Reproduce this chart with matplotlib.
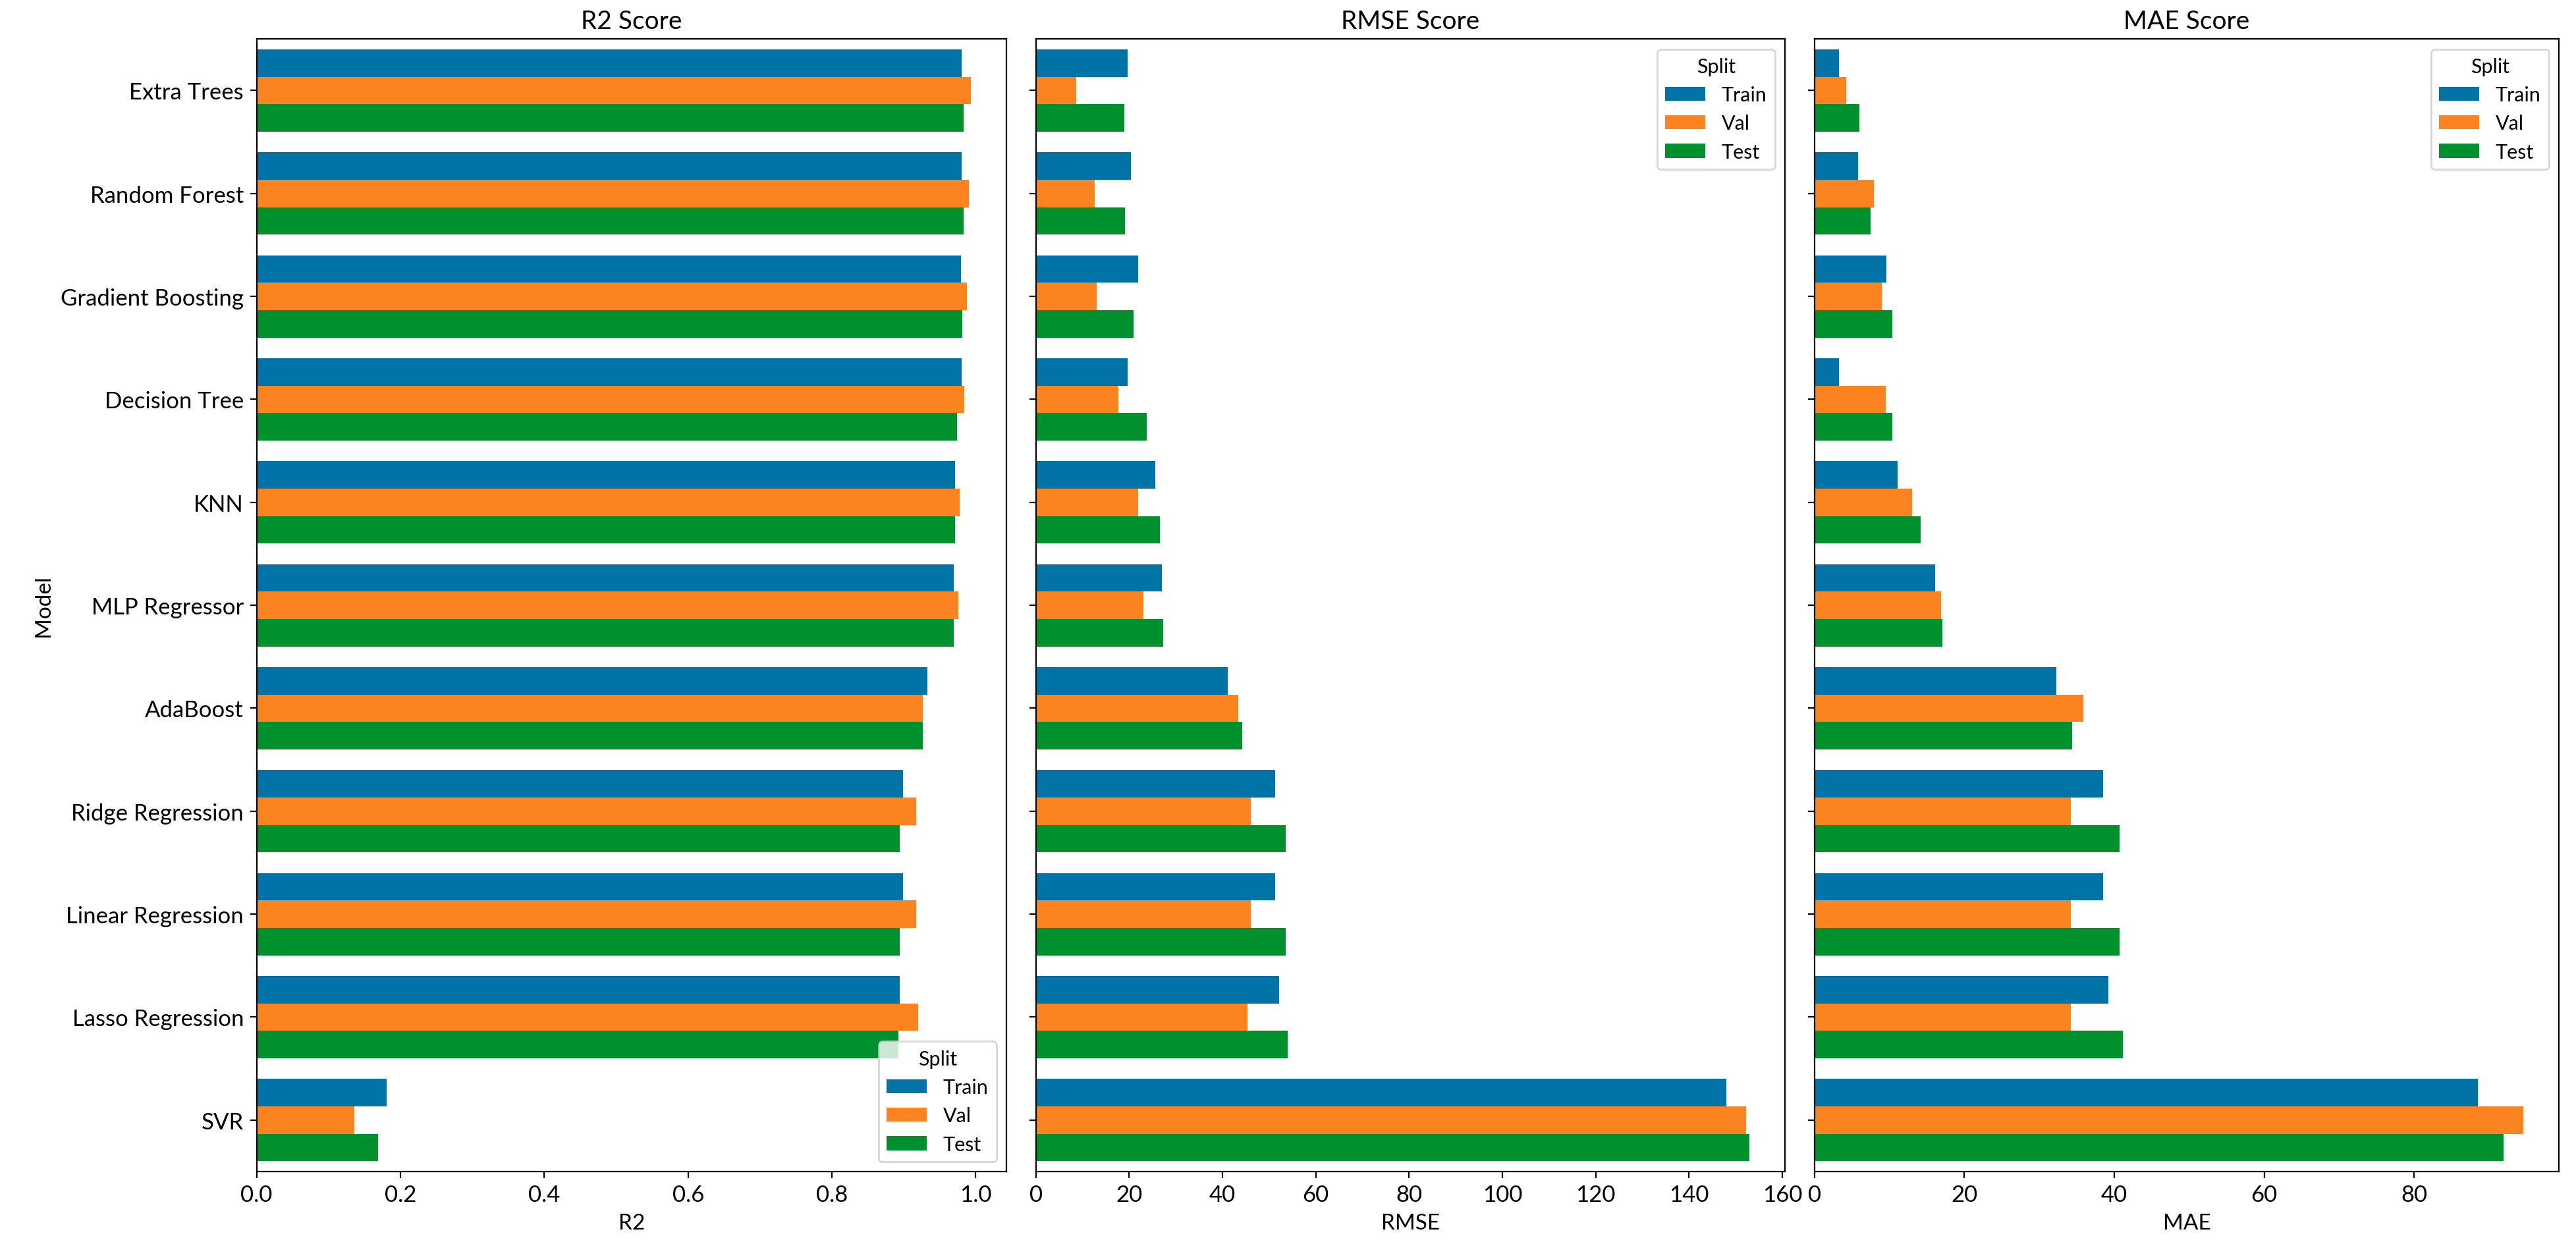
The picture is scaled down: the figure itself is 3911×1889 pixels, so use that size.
import matplotlib
matplotlib.use("Agg")
import matplotlib.pyplot as plt
import numpy as np

plt.rcParams['font.family'] = ['Lato', 'DejaVu Sans']

models = ["Extra Trees", "Random Forest", "Gradient Boosting", "Decision Tree", "KNN",
          "MLP Regressor", "AdaBoost", "Ridge Regression", "Linear Regression",
          "Lasso Regression", "SVR"]
splits = ["Train", "Val", "Test"]

r2_train = [0.980, 0.980, 0.979, 0.980, 0.971, 0.969, 0.933, 0.899, 0.899, 0.894, 0.181]
r2_val   = [0.993, 0.990, 0.988, 0.984, 0.978, 0.976, 0.926, 0.917, 0.917, 0.920, 0.136]
r2_test  = [0.983, 0.983, 0.981, 0.974, 0.971, 0.969, 0.926, 0.894, 0.894, 0.892, 0.169]

rmse_train = [19.7, 20.4, 21.9, 19.7, 25.6, 27.0, 41.1, 51.3, 51.3, 52.2, 148.0]
rmse_val   = [8.6, 12.6, 13.1, 17.7, 21.9, 23.1, 43.4, 46.1, 46.1, 45.4, 152.2]
rmse_test  = [18.9, 19.1, 21.0, 23.8, 26.6, 27.3, 44.2, 53.5, 53.5, 54.0, 152.9]

mae_train = [3.3, 5.8, 9.6, 3.3, 11.1, 16.1, 32.3, 38.5, 38.5, 39.2, 88.5]
mae_val   = [4.2, 7.9, 9.0, 9.5, 13.0, 16.9, 35.9, 34.2, 34.2, 34.2, 94.6]
mae_test  = [6.0, 7.5, 10.4, 10.4, 14.2, 17.1, 34.4, 40.7, 40.7, 41.1, 91.9]

colors = ["#0173a6", "#fc8420", "#00912e"]

panels = [
    ("R2 Score", "R2", [r2_train, r2_val, r2_test], "lower right"),
    ("RMSE Score", "RMSE", [rmse_train, rmse_val, rmse_test], "upper right"),
    ("MAE Score", "MAE", [mae_train, mae_val, mae_test], "upper right"),
]

fig = plt.figure(figsize=(19.555, 9.45), dpi=200)
lefts = [0.0996, 0.4021, 0.7044]
widths = [0.2911, 0.2908, 0.2890]
bottom, height = 0.0582, 0.9099

y = np.arange(len(models))
bh = 0.8 / 3
axes = []
for k, (title, xlabel, series, loc) in enumerate(panels):
    ax = fig.add_axes([lefts[k], bottom, widths[k], height],
                      sharey=axes[0] if axes else None)
    for j, (name, vals) in enumerate(zip(splits, series)):
        ax.barh(y + (j - 1) * bh, vals, height=bh, color=colors[j], label=name)
    ax.set_title(title, fontsize=14)
    ax.set_xlabel(xlabel, fontsize=12)
    ax.tick_params(labelsize=12.5)
    ax.legend(title="Split", loc=loc, fontsize=11, title_fontsize=11)
    axes.append(ax)

axes[0].set_yticks(y)
axes[0].set_yticklabels(models)
axes[0].set_ylim(len(models) - 0.5, -0.5)
axes[0].set_ylabel("Model", fontsize=12)
for ax in axes[1:]:
    ax.tick_params(labelleft=False)

fig.savefig("out.png", dpi=200)
